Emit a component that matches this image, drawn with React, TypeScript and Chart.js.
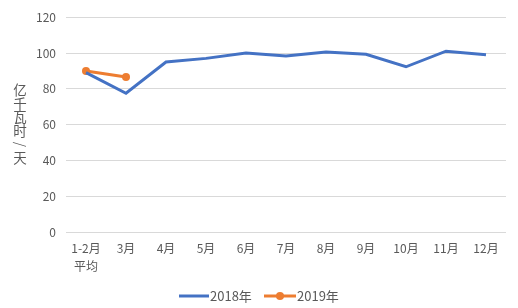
import React, { useEffect, useRef } from "react";
import { Chart, registerables } from "chart.js";

Chart.register(...registerables);

const categories: (string | string[])[] = [["1-2月", "平均"], "3月", "4月", "5月", "6月", "7月", "8月", "9月", "10月", "11月", "12月"];
const series2018 = [89, 77.5, 95, 97, 100, 98.3, 100.5, 99.3, 92.3, 101, 99];
const series2019: (number | null)[] = [90, 86.6, null, null, null, null, null, null, null, null, null];
const seriesNames = ["2018年", "2019年"];
const yTitle = "亿千瓦时/天";

const BLUE = "#4472C4";
const ORANGE = "#ED7D31";
const GRAY = "#595959";
const FONT = "'Noto Sans CJK SC', 'DejaVu Sans', sans-serif";

const extrasPlugin = {
  id: "extras",
  afterDraw(chart: any) {
    const ctx = chart.ctx;
    ctx.save();
    // vertical stacked y-axis title (upright characters)
    ctx.fillStyle = GRAY;
    ctx.font = `13.5px ${FONT}`;
    ctx.textAlign = "center";
    ctx.textBaseline = "middle";
    const chars = Array.from(yTitle);
    const startY = 90;
    const step = 13.6;
    chars.forEach((c, i) => {
      const y = startY + i * step;
      if (c === "/") {
        ctx.save();
        ctx.translate(20, y);
        ctx.rotate(Math.PI / 2);
        ctx.fillText(c, 0, 0);
        ctx.restore();
      } else {
        ctx.fillText(c, 20, y);
      }
    });
    // legend
    const ly = 296;
    ctx.font = `13px ${FONT}`;
    ctx.textAlign = "left";
    ctx.lineWidth = 3;
    ctx.strokeStyle = BLUE;
    ctx.beginPath();
    ctx.moveTo(179, ly);
    ctx.lineTo(209, ly);
    ctx.stroke();
    ctx.fillStyle = GRAY;
    ctx.fillText(seriesNames[0], 210, ly);
    ctx.strokeStyle = ORANGE;
    ctx.beginPath();
    ctx.moveTo(264, ly);
    ctx.lineTo(296, ly);
    ctx.stroke();
    ctx.fillStyle = ORANGE;
    ctx.beginPath();
    ctx.arc(280, ly, 4, 0, Math.PI * 2);
    ctx.fill();
    ctx.fillStyle = GRAY;
    ctx.fillText(seriesNames[1], 297, ly);
    ctx.restore();
  },
};

export default function App() {
  const ref = useRef<HTMLCanvasElement>(null);
  useEffect(() => {
    const chart = new Chart(ref.current!, {
      type: "line",
      data: {
        labels: categories as any,
        datasets: [
          {
            label: seriesNames[0],
            data: series2018,
            borderColor: BLUE,
            backgroundColor: BLUE,
            borderWidth: 3,
            pointRadius: 0,
            tension: 0,
          },
          {
            label: seriesNames[1],
            data: series2019,
            borderColor: ORANGE,
            backgroundColor: ORANGE,
            borderWidth: 3,
            pointRadius: 4,
            pointBorderWidth: 0,
            tension: 0,
          },
        ],
      },
      options: {
        responsive: false,
        animation: false,
        layout: { padding: { top: 11, right: 12, left: 0, bottom: 0 } },
        plugins: { legend: { display: false }, tooltip: { enabled: false } },
        scales: {
          x: {
            offset: true,
            grid: { display: false, drawTicks: false },
            border: { display: false },
            ticks: { color: GRAY, font: { family: FONT, size: 12, lineHeight: 1.55 }, padding: 7, maxRotation: 0, autoSkip: false },
            afterFit: (s: any) => { s.height = 76; },
          },
          y: {
            min: 0,
            max: 120,
            ticks: { stepSize: 20, color: GRAY, font: { family: FONT, size: 12 }, padding: 10 },
            grid: { color: "#D9D9D9", lineWidth: 1, drawTicks: false },
            border: { display: false },
            afterFit: (s: any) => { s.width = 66; },
          },
        },
      },
      plugins: [extrasPlugin],
    });
    return () => chart.destroy();
  }, []);
  return (
    <div style={{ position: "absolute", left: 0, top: 0, width: 518, height: 308, background: "#fff" }}>
      <canvas ref={ref} width={518} height={308} />
    </div>
  );
}
